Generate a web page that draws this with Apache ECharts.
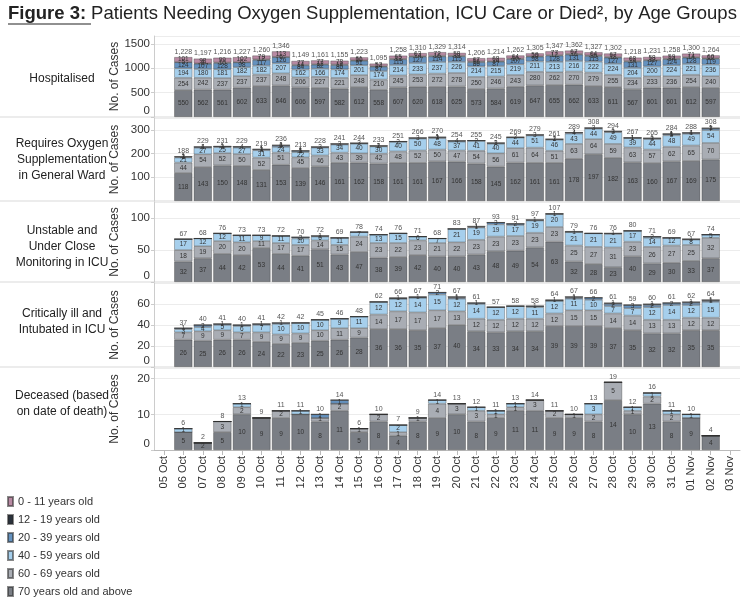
<!DOCTYPE html>
<html><head><meta charset="utf-8">
<script src="https://cdn.jsdelivr.net/npm/echarts@6/dist/echarts.min.js"></script>
<style>html,body{margin:0;padding:0;background:#fff}#c{width:747px;height:598px}</style>
</head><body><div id="c"></div>
<script>
const dates = ['05 Oct','06 Oct','07 Oct','08 Oct','09 Oct','10 Oct','11 Oct','12 Oct','13 Oct','14 Oct','15 Oct','16 Oct','17 Oct','18 Oct','19 Oct','20 Oct','21 Oct','22 Oct','23 Oct','24 Oct','25 Oct','26 Oct','27 Oct','28 Oct','29 Oct','30 Oct','31 Oct','01 Nov','02 Nov','03 Nov'];
const barDates = dates.slice(1, 29);
const ageGroups = ['0 - 11 years old','12 - 19 years old','20 - 39 years old','40 - 59 years old','60 - 69 years old','70 years old and above'];
const panelNames = ['Hospitalised','Requires Oxygen\nSupplementation\nin General Ward','Unstable and\nUnder Close\nMonitoring in ICU','Critically ill and\nIntubated in ICU','Deceased (based\non date of death)'];

// Hospitalised
const hosp70   = [550,562,561,602,633,646,606,597,582,612,558,607,620,618,625,573,584,619,647,655,662,633,611,567,601,601,612,597];
const hosp6069 = [254,242,237,237,237,248,206,227,221,248,210,245,253,272,278,250,246,243,280,262,270,279,255,234,233,236,254,240];
const hosp4059 = [194,180,181,182,182,207,162,166,174,201,174,214,233,237,226,214,215,219,211,213,216,222,224,204,200,224,221,236];
const hosp2039 = [124,107,128,98,117,126,84,82,86,91,87,115,127,114,115,86,87,107,98,128,131,113,127,131,127,124,128,119];
const hosp1219 = [5,8,10,6,12,6,14,12,14,10,14,12,14,16,12,16,14,10,10,12,16,16,18,14,12,14,14,12];
const hosp011  = [101,98,99,102,79,113,77,77,78,61,52,65,63,72,58,67,68,64,59,77,67,64,67,68,58,59,71,60];

// Requires oxygen supplementation in general ward
const oxy70   = [118,143,150,148,131,153,139,146,161,162,158,161,161,167,166,158,145,162,161,161,178,197,182,163,160,167,169,175];
const oxy6069 = [44,54,52,50,52,51,45,46,43,39,42,48,52,50,47,54,56,61,64,51,63,64,59,63,57,62,65,70];
const oxy4059 = [21,27,25,27,31,24,22,33,34,40,30,40,50,48,37,41,40,44,51,46,43,44,49,39,44,48,49,54];
const oxy2039 = [3,4,3,4,3,6,5,3,3,3,2,2,3,3,4,2,3,2,3,2,4,3,3,1,3,5,4,7];
const oxy1219 = [1,0,0,0,1,1,1,0,0,0,1,0,0,1,0,0,1,0,0,1,1,0,1,1,1,1,1,1];
const oxy011  = [1,1,1,0,1,1,1,0,0,0,0,0,0,1,0,0,0,0,0,0,0,0,0,0,0,1,0,1];

// Unstable and under close monitoring in ICU
const uns70   = [32,37,44,42,53,44,41,51,43,47,38,39,42,40,40,43,48,49,54,63,32,28,23,40,29,30,33,37];
const uns6069 = [18,19,20,20,11,17,17,14,15,24,23,22,23,21,22,23,23,23,23,23,25,27,31,23,26,27,25,32];
const uns4059 = [17,12,12,11,9,11,10,6,11,7,13,15,6,7,21,19,19,17,19,20,21,21,21,17,14,12,8,5];
const uns2039 = [0,0,0,0,0,0,2,1,0,0,0,0,0,0,0,1,3,2,1,0,0,0,1,0,2,0,1,0];
const uns1219 = [0,0,0,0,0,0,0,0,0,0,0,0,0,0,0,1,0,0,0,1,1,0,0,0,0,0,0,0];
const uns011  = [0,0,0,0,0,0,0,0,0,0,0,0,0,0,0,0,0,0,0,0,0,0,0,0,0,0,0,0];

// Critically ill and intubated in ICU
const crit70   = [26,25,26,26,24,22,23,25,26,28,36,36,35,37,40,34,33,34,34,39,39,39,37,35,32,32,35,35];
const crit6069 = [7,9,9,7,9,9,9,10,11,9,14,17,17,17,13,12,12,12,12,12,15,15,14,14,13,13,12,12];
const crit4059 = [3,4,5,6,7,10,10,10,9,11,12,12,14,15,12,14,12,12,11,12,11,10,7,7,12,14,12,15];
const crit2039 = [1,2,1,1,1,1,0,0,0,0,0,0,0,2,1,1,0,0,1,0,1,2,2,3,2,2,2,1];
const crit1219 = [0,0,0,0,0,0,0,0,0,0,0,1,1,0,1,0,0,0,0,1,1,0,1,0,1,0,1,1];
const crit011  = [0,0,0,0,0,0,0,0,0,0,0,0,0,0,0,0,0,0,0,0,0,0,0,0,0,0,0,0];

// Deceased
const dec70   = [5,2,5,10,9,9,10,8,11,5,8,4,8,9,10,8,9,11,11,9,9,8,14,10,13,8,9,4];
const dec6069 = [0,0,3,2,0,2,0,1,2,1,2,1,1,4,3,3,1,1,3,2,1,2,5,1,2,2,0,0];
const dec4059 = [1,0,0,1,0,0,1,0,0,0,0,2,0,1,0,1,1,1,0,0,0,3,0,1,1,1,1,0];
const dec2039 = [0,0,0,0,0,0,0,1,1,0,0,0,0,0,0,0,0,0,0,0,0,0,0,0,0,0,0,0];
const dec1219 = [0,0,0,0,0,0,0,0,0,0,0,0,0,0,0,0,0,0,0,0,0,0,0,0,0,0,0,0];
const dec011  = [0,0,0,0,0,0,0,0,0,0,0,0,0,0,0,0,0,0,0,0,0,0,0,0,0,0,0,0];

const yMax = [1660, 350, 125, 80, 23];
const yInterval = [500, 100, 50, 20, 10];

const panels = [
  [hosp011, hosp1219, hosp2039, hosp4059, hosp6069, hosp70],
  [oxy011, oxy1219, oxy2039, oxy4059, oxy6069, oxy70],
  [uns011, uns1219, uns2039, uns4059, uns6069, uns70],
  [crit011, crit1219, crit2039, crit4059, crit6069, crit70],
  [dec011, dec1219, dec2039, dec4059, dec6069, dec70]
];
const colors = ['#b88aa3','#2a323c','#6592bf','#a6cfec','#a9adb4','#7a7e85'];
const gridTB = [[36,117],[118,201],[202,282],[283,367],[368,450]];
const FONT = 'Liberation Sans, Arial, sans-serif';

const grids = [], xAxes = [], yAxes = [], series = [];
gridTB.forEach((tb, p) => {
  grids.push({left: 154, right: 7, top: tb[0], height: tb[1] - tb[0]});
  const last = p === 4;
  xAxes.push({
    type: 'category', gridIndex: p, data: dates,
    axisLine: {show: last, lineStyle: {color: '#bbb'}},
    axisTick: {show: last, alignWithLabel: true, lineStyle: {color: '#bbb'}},
    axisLabel: {show: last, rotate: 90, fontSize: 11, color: '#333', fontFamily: FONT, margin: 6}
  });
  yAxes.push({
    type: 'value', gridIndex: p, min: 0, max: yMax[p], interval: yInterval[p],
    name: 'No. of Cases', nameLocation: 'middle', nameGap: 33, nameMoveOverlap: false,
    nameTextStyle: {fontSize: 12, color: '#333', fontFamily: FONT},
    axisLine: {show: true, lineStyle: {color: '#ccc'}},
    axisTick: {show: true, length: 3, lineStyle: {color: '#ccc'}},
    axisLabel: {fontSize: 11.5, color: '#333', margin: 4, showMaxLabel: false, showMinLabel: p !== 1,
      verticalAlignMinLabel: 'bottom', fontFamily: FONT, formatter: v => String(v)},
    splitLine: {lineStyle: {color: '#ececec'}}
  });
  const arrs = panels[p];
  for (let g = 5; g >= 0; g--) {
    series.push({
      name: ageGroups[g], type: 'bar', stack: 'p' + p, xAxisIndex: p, yAxisIndex: p,
      barWidth: '93%',
      data: arrs[g].map((v, i) => [barDates[i], v]),
      itemStyle: {color: colors[g], borderColor: 'rgba(40,40,40,0.55)', borderWidth: 0.6},
      label: {show: true, position: 'inside', fontSize: 6.5, color: '#333',
        formatter: pr => pr.value[1] > 0 ? String(pr.value[1]) : ''},
      emphasis: {disabled: true}, animation: false
    });
  }
  const totals = barDates.map((d, i) => arrs.reduce((s, a) => s + a[i], 0));
  series.push({
    name: 'total' + p, type: 'bar', stack: 'p' + p, xAxisIndex: p, yAxisIndex: p,
    barWidth: '93%',
    data: barDates.map(d => [d, 0]),
    itemStyle: {color: 'transparent'},
    label: {show: true, position: 'top', distance: 2, fontSize: 7, color: '#555',
      formatter: pr => totals[pr.dataIndex].toLocaleString('en-US')},
    emphasis: {disabled: true}, animation: false
  });
});

const graphics = [];
[117, 201, 282, 367].forEach(y => graphics.push({type: 'line', shape: {x1: 0, y1: y, x2: 740, y2: y}, style: {stroke: '#d9d9d9', lineWidth: 1}, z: 0}));
const headerY = [79, 160, 247, 322, 404];
panelNames.forEach((n, p) => graphics.push({type: 'text', x: 62, y: headerY[p],
  style: {text: n, fontSize: 12, fill: '#222', align: 'center', verticalAlign: 'middle', lineHeight: 16, fontFamily: FONT}}));
graphics.push({type: 'line', shape: {x1: 8, y1: 24, x2: 91, y2: 24}, style: {stroke: '#222', lineWidth: 1.2}});

const chart = echarts.init(document.getElementById('c'), null, {renderer: 'canvas'});
chart.setOption({
  animation: false,
  title: {
    left: 8, top: 4, padding: 0,
    text: '{a|Figure 3:} {b|Patients Needing Oxygen Supplementation, ICU Care or Died², by Age Groups}',
    textStyle: {fontWeight: 'normal', rich: {
      a: {fontSize: 18.5, fontWeight: 'bold', color: '#222', fontFamily: FONT},
      b: {fontSize: 18.5, fontWeight: 'normal', color: '#222', fontFamily: FONT}
    }}
  },
  legend: {
    data: ageGroups, orient: 'vertical', left: 2, top: 491, height: 110, itemWidth: 5, itemHeight: 9, itemGap: 7,
    icon: 'rect', textStyle: {fontSize: 11, color: '#333', fontFamily: FONT},
    selectedMode: false
  },
  color: colors,
  grid: grids, xAxis: xAxes, yAxis: yAxes, series: series,
  graphic: graphics
});
</script></body></html>
